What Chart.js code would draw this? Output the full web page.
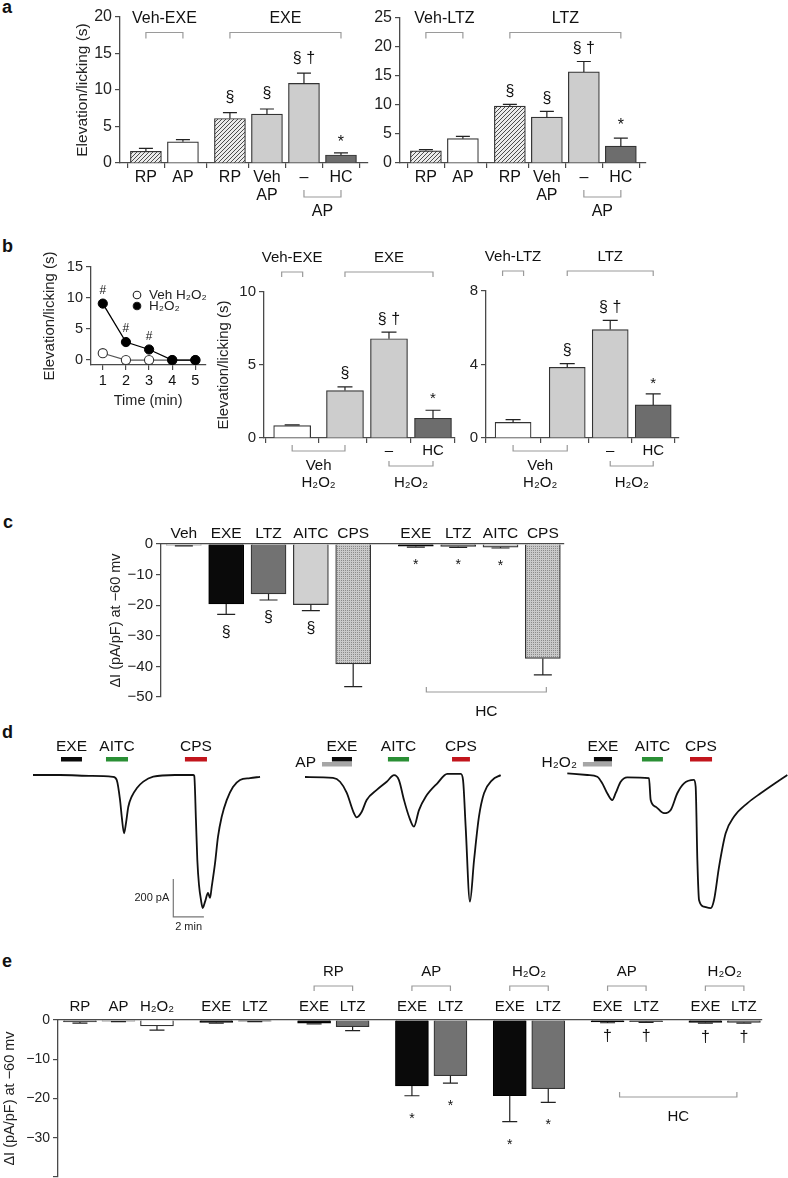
<!DOCTYPE html>
<html>
<head>
<meta charset="utf-8">
<script src="https://cdn.jsdelivr.net/npm/chart.js@4.4.0/dist/chart.umd.min.js"></script>
<style>
body { margin: 0; background: #fff; width: 788px; height: 1178px; position: relative; overflow: hidden; font-family: "Liberation Sans", Arial, sans-serif; }
canvas { position: absolute; }
.panel { position: absolute; font-weight: bold; font-size: 18px; color: #111; }
</style>
</head>
<body>
<div class="panel" style="left:2px;top:-3px">a</div>
<div class="panel" style="left:2px;top:236px">b</div>
<div class="panel" style="left:3px;top:512px">c</div>
<div class="panel" style="left:2px;top:722px">d</div>
<div class="panel" style="left:2px;top:951px">e</div>
<script>
// ---- a: elevation/licking (s) ----
const aCats = ["RP", "AP", "RP", ["Veh", "AP"], "–", "HC"];
const aGroups = [2, 4];
const aExe = [1.6, 2.9, 6.1, 6.7, 10.9, 1.1];
const aExeErr = [0.4, 0.3, 0.8, 0.7, 1.4, 0.3];
const aLtz = [2.1, 4.2, 9.8, 7.9, 15.7, 2.9];
const aLtzErr = [0.2, 0.4, 0.3, 1.0, 1.8, 1.4];
const aSig = ["", "", "§", "§", "§ †", "*"];
const aExeTicks = [0, 5, 10, 15, 20];
const aLtzTicks = [0, 5, 10, 15, 20, 25];

// ---- b: time course and H2O2 bars ----
const bTime = [1, 2, 3, 4, 5];
const bVehH2o2 = [1.1, 0, 0, 0, 0];
const bH2o2 = [9.1, 2.9, 1.7, 0, 0];
const bTimeSig = ["#", "#", "#", "", ""];
const bTimeTicks = [0, 5, 10, 15];
const bCats = ["", "", "–", "HC"];
const bGroups = [1, 3];
const bExe = [0.85, 3.25, 6.8, 1.35];
const bExeErr = [0.05, 0.25, 0.45, 0.55];
const bLtz = [0.85, 3.85, 5.9, 1.8];
const bLtzErr = [0.15, 0.2, 0.5, 0.6];
const bSig = ["", "§", "§ †", "*"];
const bExeTicks = [0, 5, 10];
const bLtzTicks = [0, 4, 8];

// ---- c: current density ----
const cCats = ["Veh", "EXE", "LTZ", "AITC", "CPS", "EXE", "LTZ", "AITC", "CPS"];
const cGroups = [5, 4];
const cCurrent = [-0.4, -19.6, -16.3, -19.8, -39.2, -0.7, -0.8, -1.0, -37.4];
const cErr = [0.2, 3.4, 2.0, 2.0, 7.4, 0.3, 0.3, 0.3, 5.4];
const cSig = ["", "§", "§", "§", "", "*", "*", "*", ""];
const cTicks = [0, -10, -20, -30, -40, -50];

// ---- d: current traces (min, pA) ----
const d1Time = [0, 1.76, 3.86, 5.23, 5.47, 5.69, 5.80, 5.95, 6.08, 6.23, 6.45, 6.78, 7.21, 7.86, 9.28,
  10.46, 10.54, 10.65, 10.74, 10.85, 10.98, 11.09, 11.24, 11.44, 11.57, 11.68, 11.90, 12.09, 12.33, 12.66, 13.07, 13.53, 14.18, 14.84];
const d1Current = [0, 0, -5, -10, -26, -132, -219, -307, -252, -167, -114, -70, -35, -9, 0,
  0, -5, -237, -447, -579, -658, -700, -668, -621, -647, -589, -463, -326, -221, -132, -63, -26, -16, -10];
const d1Stim = ["EXE", "AITC", "CPS"];
const d1On = [1.83, 4.77, 9.93];
const d1Off = [3.20, 6.21, 11.37];

const d2Time = [0, 1.83, 2.29, 2.73, 3.16, 3.38, 3.71, 4.03, 4.69, 5.34, 5.82, 6.14, 6.47, 6.80, 7.12, 7.45, 7.89, 8.65,
  9.30, 10.18, 10.33, 10.50, 10.78, 11.05, 11.37, 11.70, 12.24, 12.79];
const d2Current = [0, -5, -25, -84, -183, -212, -183, -121, -68, -25, 10, -16, -121, -209, -261, -174, -104, -33,
  16, 16, -16, -261, -656, -437, -209, -86, -16, 10];
const d2Stim = ["AP", "EXE", "AITC", "CPS"];
const d2On = [1.11, 1.76, 5.42, 9.61];
const d2Off = [3.07, 3.07, 6.80, 10.78];

const d3Time = [0, 1.31, 1.96, 2.29, 2.61, 2.94, 3.16, 3.49, 3.92, 5.34, 5.45, 5.78, 6.32, 6.76, 7.19, 7.63, 8.28,
  8.39, 8.50, 8.61, 8.93, 9.37, 9.59, 9.92, 10.35, 10.90, 11.76, 12.64, 13.73, 14.38];
const d3Current = [9, 0, -9, -44, -96, -132, -96, -35, -12, -17, -132, -167, -201, -184, -96, -44, -26,
  -62, -447, -658, -693, -701, -658, -482, -307, -219, -149, -96, -35, 0];
const d3Stim = ["H₂O₂", "EXE", "AITC", "CPS"];
const d3On = [1.02, 1.74, 4.88, 8.02];
const d3Off = [2.92, 2.92, 6.25, 9.46];
const scaleCurrent = 200;
const scaleTime = 2;

// ---- e: current density ----
const eCats = ["RP", "AP", "H₂O₂", "EXE", "LTZ", "EXE", "LTZ", "EXE", "LTZ", "EXE", "LTZ", "EXE", "LTZ", "EXE", "LTZ"];
const eGroups = [3, 2, 2, 2, 2, 2, 2];
const eCurrent = [-0.5, -0.3, -1.5, -0.6, -0.3, -0.8, -1.7, -16.8, -14.2, -19.3, -17.5, -0.5, -0.4, -0.6, -0.6];
const eErr = [0.3, 0.1, 1.1, 0.2, 0.1, 0.2, 1.0, 2.5, 1.9, 6.6, 3.5, 0.2, 0.2, 0.2, 0.2];
const eSig = ["", "", "", "", "", "", "", "*", "*", "*", "*", "†", "†", "†", "†"];
const eTicks = [0, -10, -20, -30];

// ------------------------------------------------------------
const FONT = '"Liberation Sans", Arial, Helvetica, sans-serif';
Chart.defaults.font.family = FONT;
Chart.defaults.color = "#222";
const AX = "#4a4a4a";

const FILLS = {
	white: "#ffffff",
	light: "#cdcdcd",
	dark: "#6d6d6d",
	black: "#0a0a0a",
	mid: "#727272",
	pale: "#d0d0d0"
};

function makePatterns() {
	const h = document.createElement("canvas");
	h.width = h.height = 4;
	let g = h.getContext("2d");
	g.fillStyle = "#ececec";
	g.fillRect(0, 0, 4, 4);
	g.strokeStyle = "#4d4d4d";
	g.lineWidth = 1;
	g.beginPath();
	g.moveTo(0, 4); g.lineTo(4, 0);
	g.moveTo(-1, 1); g.lineTo(1, -1);
	g.moveTo(3, 5); g.lineTo(5, 3);
	g.stroke();
	FILLS.hatch = g.createPattern(h, "repeat");

	const s = document.createElement("canvas");
	s.width = s.height = 2;
	g = s.getContext("2d");
	g.fillStyle = "#c9c9c9";
	g.fillRect(0, 0, 2, 2);
	g.fillStyle = "#8a8a8a";
	g.fillRect(0, 0, 1, 1);
	FILLS.stip = g.createPattern(s, "repeat");
}
makePatterns();

function place(l, t, w, h) {
	const c = document.createElement("canvas");
	c.width = Math.round(w);
	c.height = Math.round(h);
	c.style.left = Math.round(l) + "px";
	c.style.top = Math.round(t) + "px";
	c.style.width = c.width + "px";
	c.style.height = c.height + "px";
	document.body.appendChild(c);
	return c;
}

function positions(groups, gap) {
	const p = [];
	let x = 0;
	groups.forEach(function(n, g) {
		if (g > 0) x += gap - 1;
		for (let i = 0; i < n; i++) { p.push(x); x += 1; }
	});
	return p;
}

function fmt(v) {
	return String(v).replace("-", "−");
}

// error bars, significance marks, brackets
const annot = {
	id: "annot",
	afterDatasetsDraw(chart, args, o) {
		const ctx = chart.ctx, xs = chart.scales.x, ys = chart.scales.y, area = chart.chartArea;
		const pts = chart.data.datasets[0].data;
		ctx.save();
		ctx.lineWidth = 1.2;
		ctx.strokeStyle = "#222";
		o.errs.forEach(function(e, i) {
			const p = pts[i], dir = p.y < 0 ? -1 : 1;
			const px = xs.getPixelForValue(p.x);
			const y0 = ys.getPixelForValue(p.y), y1 = ys.getPixelForValue(p.y + dir * e);
			ctx.beginPath();
			ctx.moveTo(px, y0); ctx.lineTo(px, y1);
			ctx.moveTo(px - o.cap / 2, y1); ctx.lineTo(px + o.cap / 2, y1);
			ctx.stroke();
		});
		ctx.fillStyle = "#111";
		ctx.textAlign = "center";
		ctx.textBaseline = "middle";
		o.marks.forEach(function(m, i) {
			if (!m) return;
			const p = pts[i], dir = p.y < 0 ? -1 : 1;
			const px = xs.getPixelForValue(p.x);
			const end = ys.getPixelForValue(p.y + dir * o.errs[i]);
			const star = m === "*";
			const size = star ? o.starSize : o.markSize;
			const gap = m === "†" ? o.daggerGap : (star ? o.starGap : o.markGap);
			ctx.font = size + "px " + FONT;
			ctx.fillText(m, px, end - dir * gap + (star ? size * 0.22 : 0));
		});
		ctx.font = o.textSize + "px " + FONT;
		(o.brackets || []).forEach(function(b) {
			let x0 = xs.getPixelForValue(pts[b.i0].x) + (b.in0 || 0);
			let x1 = xs.getPixelForValue(pts[b.i1].x) - (b.in1 || 0);
			if (b.half) { x0 -= b.half; x1 += b.half; }
			const base = b.ref === "b" ? area.bottom : area.top;
			const yl = base + b.dy;
			ctx.strokeStyle = "#9a9a9a";
			ctx.beginPath();
			ctx.moveTo(x0, yl + b.end); ctx.lineTo(x0, yl); ctx.lineTo(x1, yl); ctx.lineTo(x1, yl + b.end);
			ctx.stroke();
			[].concat(b.text).forEach(function(t, k) {
				ctx.fillText(t, (x0 + x1) / 2, base + b.tdy + k * (b.lh || 0));
			});
		});
		ctx.restore();
	}
};

function barChart(s) {
	const pos = positions(s.groups, s.gap);
	const m = s.m, xTop = !!s.xTop;
	const cv = place(s.plot.l - m[0], s.plot.t - m[1],
		s.plot.r - s.plot.l + m[0] + m[2], s.plot.b - s.plot.t + m[1] + m[3]);
	return new Chart(cv, {
		type: "bar",
		data: {
			datasets: [{
				data: s.values.map(function(v, i) { return { x: pos[i], y: v }; }),
				backgroundColor: s.fills.map(function(f) { return FILLS[f]; }),
				borderColor: s.fills.map(function(f) { return f === "black" ? "#000" : "#333"; }),
				borderWidth: 1.2,
				barThickness: s.barW
			}]
		},
		options: {
			responsive: false,
			animation: false,
			events: [],
			layout: { padding: { left: 0, right: m[2], top: xTop ? 0 : m[1], bottom: xTop ? m[3] : 0 } },
			plugins: {
				legend: { display: false },
				tooltip: { enabled: false },
				annot: {
					errs: s.errs, marks: s.marks, cap: s.cap, brackets: s.brackets,
					markSize: s.markSize, starSize: s.starSize, textSize: s.textSize,
					markGap: s.markGap, starGap: s.starGap, daggerGap: s.daggerGap || s.markGap
				}
			},
			scales: {
				x: {
					type: "linear",
					position: xTop ? "top" : "bottom",
					min: s.xMin,
					max: s.xMax,
					offset: false,
					afterBuildTicks: function(sc) { sc.ticks = pos.map(function(v) { return { value: v }; }); },
					afterFit: function(sc) { sc.height = xTop ? m[1] : m[3]; },
					grid: { drawOnChartArea: false, drawTicks: !xTop, tickLength: 5, color: AX, lineWidth: 1.2 },
					border: { color: AX, width: 1.3 },
					ticks: {
						autoSkip: false, maxRotation: 0, padding: s.xPad, color: "#111",
						font: { size: s.xSize, lineHeight: 1.1 },
						callback: function(v, i) { return s.cats[i]; }
					}
				},
				y: {
					min: s.yMin,
					max: s.yMax,
					afterBuildTicks: function(sc) {
						const t = [];
						for (let v = s.yMin; v <= s.yMax + 1e-9; v += s.yStep) t.push({ value: v });
						sc.ticks = t;
					},
					afterFit: function(sc) { sc.width = m[0]; },
					grid: { drawOnChartArea: false, tickLength: 5, color: AX, lineWidth: 1.2 },
					border: { color: AX, width: 1.3 },
					ticks: {
						padding: 3, color: "#222", font: { size: s.ySize },
						callback: function(v) { return s.yLabels.includes(v) ? fmt(v) : ""; }
					},
					title: {
						display: !!s.yTitle, text: s.yTitle || "", color: "#222",
						font: { size: s.yTitleSize || 14 }, padding: 0
					}
				}
			}
		},
		plugins: [annot]
	});
}

// ---- panel a ----
const aFills = ["hatch", "white", "hatch", "light", "light", "dark"];
function aBrackets(vehName, drugName, dy, tdy) {
	return [
		{ i0: 0, i1: 1, ref: "t", dy: dy, end: 6, text: vehName, tdy: tdy },
		{ i0: 2, i1: 5, ref: "t", dy: dy, end: 6, text: drugName, tdy: tdy },
		{ i0: 4, i1: 5, ref: "b", dy: 34, end: -7, text: "AP", tdy: 49 }
	];
}
barChart({
	plot: { l: 120, t: 17, r: 368, b: 163 }, m: [47, 17, 6, 59],
	groups: aGroups, gap: 1.27, xMin: -0.70, xMax: 6.0,
	yMin: 0, yMax: 20, yStep: 5, yLabels: aExeTicks, yTitle: "Elevation/licking (s)", yTitleSize: 15.5,
	values: aExe, errs: aExeErr, marks: aSig, cats: aCats, fills: aFills,
	barW: 31, cap: 14, xSize: 16, ySize: 16, xPad: 1, textSize: 16,
	markSize: 16, starSize: 16, markGap: 15, starGap: 14,
	brackets: aBrackets("Veh-EXE", "EXE", 15.5, 1.5)
});
barChart({
	plot: { l: 400, t: 18, r: 646, b: 163 }, m: [28, 18, 12, 59],
	groups: aGroups, gap: 1.27, xMin: -0.70, xMax: 5.95,
	yMin: 0, yMax: 25, yStep: 5, yLabels: aLtzTicks,
	values: aLtz, errs: aLtzErr, marks: aSig, cats: aCats, fills: aFills,
	barW: 31, cap: 14, xSize: 16, ySize: 16, xPad: 1, textSize: 16,
	markSize: 16, starSize: 16, markGap: 13, starGap: 16,
	brackets: aBrackets("Veh-LTZ", "LTZ", 14.5, 0.5)
});

// ---- panel b: time course ----
const timeMarks = {
	id: "timeMarks",
	afterDatasetsDraw(chart) {
		const ctx = chart.ctx, xs = chart.scales.x, ys = chart.scales.y, area = chart.chartArea;
		ctx.save();
		ctx.fillStyle = "#111";
		ctx.textAlign = "center";
		ctx.textBaseline = "middle";
		ctx.font = "12px " + FONT;
		bTimeSig.forEach(function(m, i) {
			if (m) ctx.fillText(m, xs.getPixelForValue(bTime[i]), ys.getPixelForValue(bH2o2[i]) - 13);
		});
		// legend
		const lx = area.left + 46;
		[["Veh H₂O₂", "#fff"], ["H₂O₂", "#000"]].forEach(function(e, k) {
			const ly = area.top + 28 + k * 11;
			ctx.beginPath();
			ctx.arc(lx, ly, 3.8, 0, Math.PI * 2);
			ctx.fillStyle = e[1];
			ctx.fill();
			ctx.lineWidth = 1.1;
			ctx.strokeStyle = "#222";
			ctx.stroke();
			ctx.fillStyle = "#222";
			ctx.textAlign = "left";
			ctx.font = "13.5px " + FONT;
			ctx.fillText(e[0], lx + 12, ly);
		});
		ctx.restore();
	}
};
(function() {
	const plot = { l: 91, t: 267, r: 207, b: 365 }, m = [50, 20, 4, 45];
	const cv = place(plot.l - m[0], plot.t - m[1], plot.r - plot.l + m[0] + m[2], plot.b - plot.t + m[1] + m[3]);
	new Chart(cv, {
		type: "line",
		data: {
			datasets: [
				{
					data: bTime.map(function(t, i) { return { x: t, y: bH2o2[i] }; }),
					borderColor: "#000", borderWidth: 1.3,
					pointRadius: 4.6, pointBackgroundColor: "#000", pointBorderColor: "#000", pointBorderWidth: 1
				},
				{
					data: bTime.map(function(t, i) { return { x: t, y: bVehH2o2[i] }; }),
					borderColor: "#555", borderWidth: 1.2,
					pointRadius: 4.6, pointBackgroundColor: "#fff", pointBorderColor: "#333", pointBorderWidth: 1.1
				}
			]
		},
		options: {
			responsive: false, animation: false, events: [],
			layout: { padding: { left: 0, right: m[2], top: m[1], bottom: 0 } },
			plugins: { legend: { display: false }, tooltip: { enabled: false } },
			scales: {
				x: {
					type: "linear", min: 0.49, max: 5.43,
					afterBuildTicks: function(sc) { sc.ticks = bTime.map(function(v) { return { value: v }; }); },
					afterFit: function(sc) { sc.height = m[3]; },
					grid: { drawOnChartArea: false, tickLength: 5, color: AX, lineWidth: 1.2 },
					border: { color: AX, width: 1.3 },
					ticks: { padding: 2, color: "#111", font: { size: 14.5 } },
					title: { display: true, text: "Time (min)", color: "#222", font: { size: 14.5 }, padding: 0 }
				},
				y: {
					min: -0.8, max: 15,
					afterBuildTicks: function(sc) { sc.ticks = bTimeTicks.map(function(v) { return { value: v }; }); },
					afterFit: function(sc) { sc.width = m[0]; },
					grid: { drawOnChartArea: false, tickLength: 5, color: AX, lineWidth: 1.2 },
					border: { color: AX, width: 1.3 },
					ticks: { padding: 3, color: "#222", font: { size: 14.5 } },
					title: { display: true, text: "Elevation/licking (s)", color: "#222", font: { size: 15 }, padding: 0 }
				}
			}
		},
		plugins: [timeMarks]
	});
})();

// ---- panel b: bars ----
const bFills = ["white", "light", "light", "dark"];
function bBrackets(vehName, drugName) {
	return [
		{ i0: 0, i1: 0, half: 10.5, ref: "t", dy: -20, end: 5, text: vehName, tdy: -34 },
		{ i0: 1, i1: 3, ref: "t", dy: -20, end: 5, text: drugName, tdy: -34 },
		{ i0: 0, i1: 1, ref: "b", dy: 13, end: -6, text: ["Veh", "H₂O₂"], tdy: 28, lh: 17 },
		{ i0: 2, i1: 3, ref: "b", dy: 28, end: -5, text: "H₂O₂", tdy: 45 }
	];
}
barChart({
	plot: { l: 264, t: 292, r: 455, b: 438 }, m: [49, 47, 4, 56],
	groups: bGroups, gap: 1.2, xMin: -0.64, xMax: 3.70,
	yMin: 0, yMax: 10, yStep: 5, yLabels: bExeTicks, yTitle: "Elevation/licking (s)", yTitleSize: 15,
	values: bExe, errs: bExeErr, marks: bSig, cats: bCats, fills: bFills,
	barW: 37, cap: 15, xSize: 15, ySize: 15, xPad: 0, textSize: 15,
	markSize: 16, starSize: 15, markGap: 13, starGap: 15,
	brackets: bBrackets("Veh-EXE", "EXE")
});
barChart({
	plot: { l: 486, t: 291, r: 679, b: 438 }, m: [26, 46, 10, 56],
	groups: bGroups, gap: 1.26, xMin: -0.63, xMax: 3.86,
	yMin: 0, yMax: 8, yStep: 4, yLabels: bLtzTicks,
	values: bLtz, errs: bLtzErr, marks: bSig, cats: bCats, fills: bFills,
	barW: 36, cap: 15, xSize: 15, ySize: 15, xPad: 0, textSize: 15,
	markSize: 16, starSize: 15, markGap: 13, starGap: 13,
	brackets: bBrackets("Veh-LTZ", "LTZ")
});

// ---- panel c ----
barChart({
	plot: { l: 161, t: 544, r: 564, b: 697 }, m: [54, 24, 10, 26], xTop: true,
	groups: cGroups, gap: 1.48, xMin: -0.54, xMax: 8.98,
	yMin: -50, yMax: 0, yStep: 5, yLabels: cTicks, yTitle: "ΔI (pA/pF) at −60 mv", yTitleSize: 14.5,
	values: cCurrent, errs: cErr, marks: cSig, cats: cCats,
	fills: ["white", "black", "mid", "pale", "stip", "black", "mid", "pale", "stip"],
	barW: 35, cap: 18, xSize: 15.5, ySize: 15, xPad: 2, textSize: 15.5,
	markSize: 16, starSize: 14, markGap: 18, starGap: 15,
	brackets: [{ i0: 5, i1: 8, in0: 10.5, in1: -3.5, ref: "t", dy: 148, end: -5, text: "HC", tdy: 168 }]
});

// ---- panel d: traces ----
const STIM_COLOR = { "EXE": "#0a0a0a", "AITC": "#2a8f35", "CPS": "#c2151c", "AP": "#a6a6a6", "H₂O₂": "#a6a6a6" };
const PRE = ["AP", "H₂O₂"];
const stim = {
	id: "stim",
	afterDatasetsDraw(chart, args, o) {
		const ctx = chart.ctx, xs = chart.scales.x, ys = chart.scales.y;
		ctx.save();
		ctx.textBaseline = "middle";
		ctx.font = "15.5px " + FONT;
		o.names.forEach(function(n, i) {
			const x0 = xs.getPixelForValue(o.on[i]), x1 = xs.getPixelForValue(o.off[i]);
			const pre = PRE.includes(n);
			ctx.fillStyle = STIM_COLOR[n];
			ctx.fillRect(x0, pre ? 25 : 20, x1 - x0, 4.5);
			ctx.fillStyle = "#111";
			if (pre) {
				ctx.textAlign = "right";
				ctx.fillText(n, x0 - 6, 26);
			} else {
				ctx.textAlign = "center";
				ctx.fillText(n, (x0 + x1) / 2, 10);
			}
		});
		if (o.bar) {
			const xa = xs.getPixelForValue(o.bar.t), xb = xs.getPixelForValue(o.bar.t + scaleTime);
			const ya = ys.getPixelForValue(o.bar.i), yb = ys.getPixelForValue(o.bar.i + scaleCurrent);
			ctx.strokeStyle = "#777";
			ctx.lineWidth = 1.2;
			ctx.beginPath();
			ctx.moveTo(xa, yb); ctx.lineTo(xa, ya); ctx.lineTo(xb, ya);
			ctx.stroke();
			ctx.fillStyle = "#222";
			ctx.font = "11px " + FONT;
			ctx.textAlign = "right";
			ctx.fillText(scaleCurrent + " pA", xa - 4, (ya + yb) / 2);
			ctx.textAlign = "center";
			ctx.fillText(scaleTime + " min", (xa + xb) / 2, ya + 10);
		}
		ctx.restore();
	}
};

const PX_MIN = 15.3, PX_PA = 0.19, TR_TOP = 737, TR_H = 209;
function trace(time, current, names, on, off, x0, base, tMin, tMax, bar) {
	const left = Math.round(x0 + tMin * PX_MIN);
	const w = Math.round((tMax - tMin) * PX_MIN);
	const xmin = (left - x0) / PX_MIN;
	const ymax = (base - TR_TOP) / PX_PA;
	const cv = place(left, TR_TOP, w, TR_H);
	new Chart(cv, {
		type: "line",
		data: {
			datasets: [{
				data: time.map(function(t, i) { return { x: t, y: current[i] }; }),
				borderColor: "#111", borderWidth: 1.8, pointRadius: 0,
				cubicInterpolationMode: "monotone"
			}]
		},
		options: {
			responsive: false, animation: false, events: [],
			layout: { padding: 0 },
			plugins: { legend: { display: false }, tooltip: { enabled: false },
				stim: { names: names, on: on, off: off, bar: bar } },
			scales: {
				x: { type: "linear", display: false, min: xmin, max: xmin + w / PX_MIN },
				y: { display: false, min: ymax - TR_H / PX_PA, max: ymax }
			}
		},
		plugins: [stim]
	});
}
trace(d1Time, d1Current, d1Stim, d1On, d1Off, 33, 775, -0.3, 15.1, { t: 9.17, i: -747 });
trace(d2Time, d2Current, d2Stim, d2On, d2Off, 305, 777, -1.1, 13.2, null);
trace(d3Time, d3Current, d3Stim, d3On, d3Off, 567.3, 775, -2.2, 14.6, null);

// ---- panel e ----
const eBr = [["RP", 5], ["AP", 7], ["H₂O₂", 9], ["AP", 11], ["H₂O₂", 13]].map(function(g) {
	return { i0: g[1], i1: g[1] + 1, ref: "t", dy: -34, end: 5, text: g[0], tdy: -48 };
});
eBr.push({ i0: 11, i1: 14, in0: 12, in1: 7, ref: "t", dy: 77, end: -5, text: "HC", tdy: 97 });
barChart({
	plot: { l: 58, t: 1020, r: 762, b: 1177 }, m: [57, 62, 12, 18], xTop: true,
	groups: eGroups, gap: 1.54, xMin: -0.57, xMax: 17.71,
	yMin: -40, yMax: 0, yStep: 5, yLabels: eTicks, yTitle: "ΔI (pA/pF) at −60 mv", yTitleSize: 14.5,
	values: eCurrent, errs: eErr, marks: eSig, cats: eCats,
	fills: ["mid", "pale", "white", "black", "mid", "black", "mid", "black", "mid", "black", "mid", "black", "mid", "black", "mid"],
	barW: 33, cap: 15, xSize: 15, ySize: 14, xPad: 5, textSize: 15,
	markSize: 16, starSize: 14, markGap: 20, starGap: 20, daggerGap: 14,
	brackets: eBr
});
</script>
</body>
</html>
